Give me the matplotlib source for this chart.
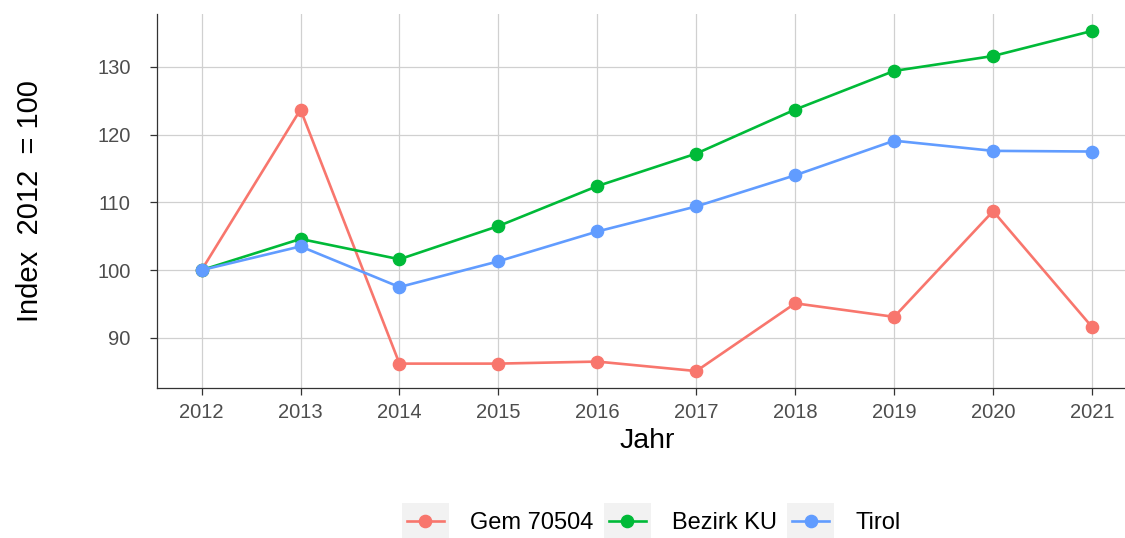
import matplotlib
matplotlib.use("Agg")
import matplotlib.pyplot as plt
from matplotlib.legend_handler import HandlerLine2D
from matplotlib.patches import Rectangle

plt.rcParams['font.family'] = ['Liberation Sans', 'DejaVu Sans']

# data (index 2012 = 100)
years = [2012, 2013, 2014, 2015, 2016, 2017, 2018, 2019, 2020, 2021]
gem = [100, 123.7, 86.2, 86.2, 86.5, 85.1, 95.1, 93.1, 108.7, 91.6]
bezirk = [100, 104.6, 101.6, 106.5, 112.4, 117.2, 123.7, 129.4, 131.6, 135.3]
tirol = [100, 103.5, 97.5, 101.3, 105.7, 109.4, 114.0, 119.1, 117.6, 117.5]

series_names = ["Gem 70504", "Bezirk KU", "Tirol"]
series_colors = ["#F8766D", "#00BA38", "#619CFF"]
yticks = [90, 100, 110, 120, 130]


class KeyHandler(HandlerLine2D):
    # ggplot style legend key: grey box behind the line+point
    def create_artists(self, legend, orig_handle, xdescent, ydescent,
                       width, height, fontsize, trans):
        arts = super().create_artists(legend, orig_handle, xdescent, ydescent,
                                      width, height, fontsize, trans)
        bw, bh = 33.8, 25.9
        cx = -xdescent + width / 2
        cy = -ydescent + height / 2
        rect = Rectangle((cx - bw / 2, cy - bh / 2), bw, bh,
                         facecolor="#F2F2F2", edgecolor="none", transform=trans)
        return [rect] + list(arts)


fig = plt.figure(figsize=(11.25, 5.38), dpi=100)
ax = fig.add_axes([0.1396, 0.2788, 0.8707, 0.6952])

lines = []
for vals, name, col in zip([gem, bezirk, tirol], series_names, series_colors):
    ln, = ax.plot(years, vals, color=col, lw=1.9, marker="o", ms=8.8,
                  label=name, zorder=3)
    lines.append(ln)

ax.set_xlim(2011.55, 2021.45)
ax.set_ylim(82.6, 137.8)
ax.set_xticks(years)
ax.set_yticks(yticks)

ax.grid(True, color="#D0D0D0", lw=0.9, zorder=0)
ax.set_axisbelow(True)
for s in ["top", "right"]:
    ax.spines[s].set_visible(False)
for s in ["left", "bottom"]:
    ax.spines[s].set_color("#333333")
    ax.spines[s].set_linewidth(0.9)

ax.tick_params(axis="both", direction="out", length=5, width=0.9,
               color="#333333", labelcolor="#4D4D4D", labelsize=14.5)
ax.tick_params(axis="x", pad=6)
ax.tick_params(axis="y", pad=14)

ax.set_xlabel("Jahr", fontsize=20.5, color="black", labelpad=4)
ax.set_ylabel("Index  2012  = 100", fontsize=21, color="black", labelpad=38)

fig.legend(handles=lines, loc="center", bbox_to_anchor=(0.581, 0.028),
           ncol=3, frameon=False, fontsize=17, handlelength=1.57,
           handletextpad=1.1, columnspacing=0.65,
           handler_map={ln: KeyHandler() for ln in lines})

fig.savefig("out.png", dpi=100)
